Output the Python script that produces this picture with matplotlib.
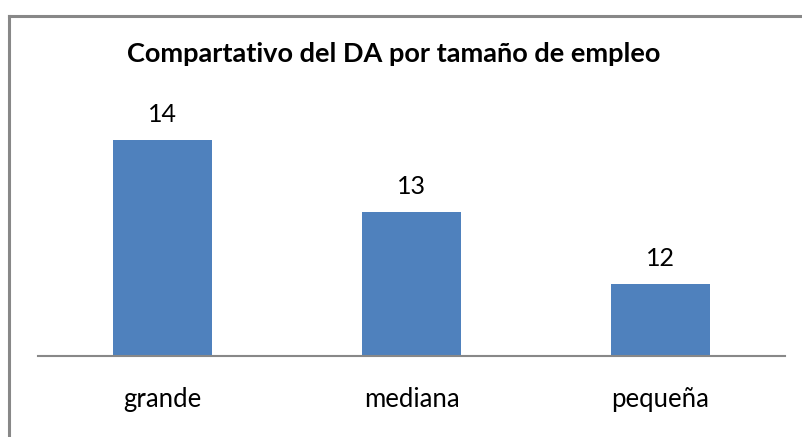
import matplotlib
matplotlib.use("Agg")
import matplotlib.pyplot as plt
from matplotlib.lines import Line2D

categories = ["grande", "mediana", "pequeña"]
values = [14, 13, 12]
title = "Compartativo del DA por tamaño de empleo"

plt.rcParams['font.family'] = ['Lato', 'DejaVu Sans']

fig = plt.figure(figsize=(8.03, 4.37), dpi=100)
ax = fig.add_axes([38/803, 1-356/437, (785-38)/803, (356-68)/437])

x = range(len(categories))
bars = ax.bar(x, values, width=0.4, color="#4F81BD", bottom=0)
ax.set_ylim(11, 15)
ax.set_xlim(-0.5, 2.5)

for xi, v in zip(x, values):
    ax.annotate(str(v), (xi, v), xytext=(0, 26), textcoords="offset pixels",
                ha="center", va="center", fontsize=18, color="#000000")

for s in ["top", "right", "left"]:
    ax.spines[s].set_visible(False)
ax.spines["bottom"].set_color("#888888")
ax.spines["bottom"].set_linewidth(1.5)
ax.set_yticks([])
ax.set_xticks(list(x))
ax.set_xticklabels(categories, fontsize=18.5)
ax.tick_params(axis="x", length=0, pad=22)

fig.text(394/803, 1-54/437, title, ha="center", va="center", fontsize=19.5, fontweight="bold")

# outer chart border
fig.add_artist(Line2D([8.5/803, 1.0], [1-15.5/437, 1-15.5/437], color="#888888", lw=2.2, transform=fig.transFigure))
fig.add_artist(Line2D([8.5/803, 8.5/803], [0, 1-15.5/437], color="#888888", lw=2.2, transform=fig.transFigure))

fig.savefig("out.png", dpi=100)
